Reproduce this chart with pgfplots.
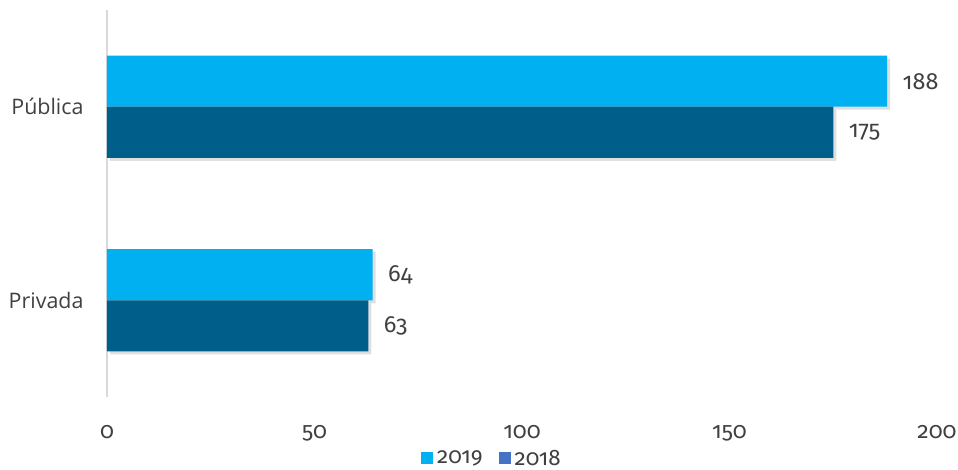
\documentclass[border=0pt]{standalone}
\usepackage{pgfplots}
\pgfplotsset{compat=1.18}
\usepackage{fontspec}
\setmainfont{Carlito}
\newfontfamily\numfont{Fira Sans}[Numbers=OldStyle]
\newfontfamily\labfont{Open Sans}
\usetikzlibrary{shadows}
\definecolor{c19}{HTML}{00B0F0}
\definecolor{c18}{HTML}{005E8A}
\definecolor{l18}{HTML}{4472C4}
\definecolor{txt}{HTML}{404040}
\begin{document}
\begin{tikzpicture}
\begin{axis}[
  scale only axis,
  width=830bp, height=387bp,
  xmin=0, xmax=200,
  ymin=-0.5, ymax=1.5,
  axis x line*=bottom,
  x axis line style={draw=none},
  axis y line*=left,
  y axis line style={draw=black!15, line width=1.2pt},
  xtick={0,50,100,150,200},
  xticklabel style={font=\numfont\fontsize{23}{27}\selectfont, text=txt, yshift=-25bp},
  ytick={0,1},
  yticklabels={Privada,Pública},
  yticklabel style={font=\labfont\fontsize{21.5}{26}\selectfont, text=txt, xshift=-20bp},
  /pgf/number format/assume math mode=true,
  major tick length=0pt,
  xbar,
  bar width=0.264,
  nodes near coords={\pgfmathprintnumber{\pgfplotspointmeta}},
  nodes near coords style={font=\numfont\fontsize{23.5}{27}\selectfont, text=txt, xshift=12bp},
  legend style={at={(0.465,-0.158)}, anchor=center, draw=none, legend columns=2,
     inner sep=0pt,
     font=\numfont\fontsize{22.5}{26}\selectfont, text=txt,
     /tikz/every even column/.append style={column sep=12bp},
     nodes={inner xsep=4bp, inner ysep=0pt}},
  legend image code/.code={\fill[#1] (0bp,-6bp) rectangle (12bp,6bp);},
  clip=false,
]
\addplot[forget plot, fill=c19, draw=none, bar shift=0.132, drop shadow={shadow xshift=3bp, shadow yshift=-3bp, opacity=0.25}] coordinates {(188,1) (64,0)};
\addplot[forget plot, fill=c18, draw=none, bar shift=-0.132, drop shadow={shadow xshift=3bp, shadow yshift=-3bp, opacity=0.25}] coordinates {(175,1) (63,0)};
\addlegendimage{fill=c19, draw=none}
\addlegendentry{2019}
\addlegendimage{fill=l18, draw=none}
\addlegendentry{2018}
\end{axis}
\pgfresetboundingbox
\path (-107bp,-73bp) rectangle (851bp,397bp);
\end{tikzpicture}
\end{document}
